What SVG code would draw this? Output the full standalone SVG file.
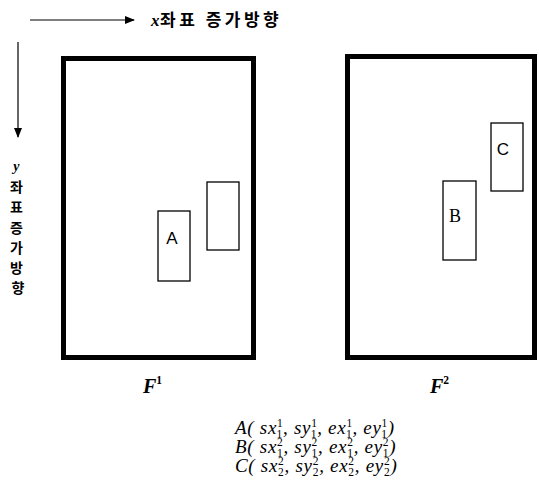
<svg xmlns="http://www.w3.org/2000/svg" width="539" height="494" viewBox="0 0 539 494">
<style>
.frame{fill:none;stroke:#000;stroke-width:5}
.box{fill:none;stroke:#000;stroke-width:1.3}
.kr{font-family:"Noto Sans CJK KR","Liberation Sans",sans-serif;fill:#000}
.lbl{font-family:"Liberation Sans",sans-serif;font-size:17px;fill:#000;text-anchor:middle}
.lbl.serif{font-family:"Liberation Serif",serif;font-size:18px}
.math{font-family:"Liberation Serif",serif;font-style:italic;font-size:19px;fill:#000;letter-spacing:0.7px}
.sc{font-size:11.5px;font-style:normal}
.big{font-size:20px;font-weight:bold;letter-spacing:0}
</style>
<defs>
<marker id="ah" markerWidth="10" markerHeight="8" refX="9" refY="4" orient="auto" markerUnits="userSpaceOnUse">
<path d="M0,0 L10,4 L0,8 Z" fill="#000"/>
</marker>
</defs>
<rect width="539" height="494" fill="#fff"/>
<g id="connectors">
<line x1="30" y1="20" x2="134" y2="20" stroke="#000" stroke-width="1.2" marker-end="url(#ah)"/>
<line x1="18" y1="42" x2="18" y2="137" stroke="#000" stroke-width="1.2" marker-end="url(#ah)"/>
</g>
<g id="axis-labels">
<text class="kr" x="151" y="26" font-size="17" font-weight="bold" letter-spacing="3.5"><tspan style="font-family:'Liberation Serif',serif;font-style:italic" letter-spacing="0.5">x</tspan>좌표 증가방향</text>
<text class="kr" font-size="14" font-weight="bold" text-anchor="middle">
<tspan x="18" y="171" style="font-family:'Liberation Serif',serif;font-style:italic">y</tspan>
<tspan x="18" y="192">좌</tspan>
<tspan x="18" y="212">표</tspan>
<tspan x="18" y="233">증</tspan>
<tspan x="18" y="253">가</tspan>
<tspan x="18" y="273">방</tspan>
<tspan x="18" y="293">향</tspan>
</text>
</g>
<g id="F1">
<rect class="frame" x="63.5" y="58.5" width="190" height="299"/>
<text class="math big" x="143" y="393">F<tspan class="sc" dy="-9" font-size="11">1</tspan></text>
</g>
<g id="F2">
<rect class="frame" x="347.5" y="56.5" width="187" height="301"/>
<text class="math big" x="430" y="393">F<tspan class="sc" dy="-9" font-size="11">2</tspan></text>
</g>
<g id="A">
<rect class="box" x="158" y="211" width="32" height="70"/>
<text class="lbl" x="172" y="244">A</text>
</g>
<g id="unlabeled">
<rect class="box" x="207" y="182" width="32" height="68"/>
</g>
<g id="B">
<rect class="box" x="443" y="181" width="33" height="79"/>
<text class="lbl serif" x="455" y="222">B</text>
</g>
<g id="C">
<rect class="box" x="491" y="123" width="32" height="68"/>
<text class="lbl" x="503" y="155">C</text>
</g>
<g id="formulas">
<text class="math" x="235" y="434">A( sx<tspan class="sc" dy="-7">1</tspan><tspan class="sc" dx="-6.45" dy="11">1</tspan><tspan dy="-4">, sy</tspan><tspan class="sc" dy="-7">1</tspan><tspan class="sc" dx="-6.45" dy="11">1</tspan><tspan dy="-4">, ex</tspan><tspan class="sc" dy="-7">1</tspan><tspan class="sc" dx="-6.45" dy="11">1</tspan><tspan dy="-4">, ey</tspan><tspan class="sc" dy="-7">1</tspan><tspan class="sc" dx="-6.45" dy="11">1</tspan><tspan dy="-4">)</tspan></text>
<text class="math" x="235" y="453">B( sx<tspan class="sc" dy="-7">2</tspan><tspan class="sc" dx="-6.45" dy="11">1</tspan><tspan dy="-4">, sy</tspan><tspan class="sc" dy="-7">2</tspan><tspan class="sc" dx="-6.45" dy="11">1</tspan><tspan dy="-4">, ex</tspan><tspan class="sc" dy="-7">2</tspan><tspan class="sc" dx="-6.45" dy="11">1</tspan><tspan dy="-4">, ey</tspan><tspan class="sc" dy="-7">2</tspan><tspan class="sc" dx="-6.45" dy="11">1</tspan><tspan dy="-4">)</tspan></text>
<text class="math" x="235" y="472">C( sx<tspan class="sc" dy="-7">2</tspan><tspan class="sc" dx="-6.45" dy="11">2</tspan><tspan dy="-4">, sy</tspan><tspan class="sc" dy="-7">2</tspan><tspan class="sc" dx="-6.45" dy="11">2</tspan><tspan dy="-4">, ex</tspan><tspan class="sc" dy="-7">2</tspan><tspan class="sc" dx="-6.45" dy="11">2</tspan><tspan dy="-4">, ey</tspan><tspan class="sc" dy="-7">2</tspan><tspan class="sc" dx="-6.45" dy="11">2</tspan><tspan dy="-4">)</tspan></text>
</g>
</svg>
